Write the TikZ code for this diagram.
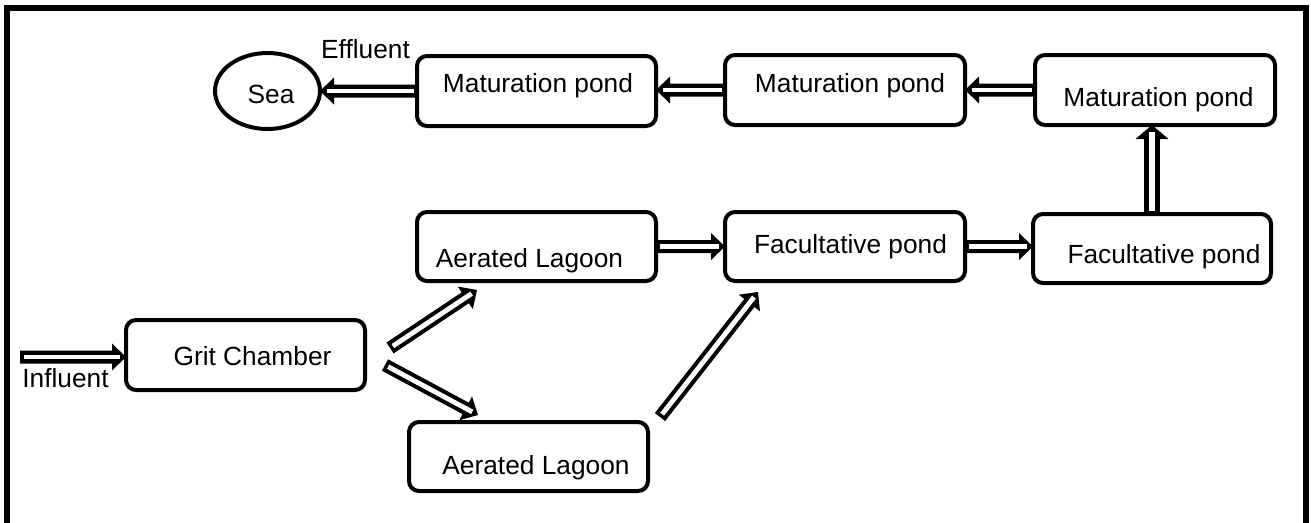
\documentclass[tikz,border=0pt]{standalone}
\usepackage{fontspec}
\setmainfont{Liberation Sans}
\usetikzlibrary{calc,shapes.geometric}
\tikzset{
  pond/.style={draw=black, line width=4pt, rounded corners=10pt, minimum width=239pt, minimum height=70pt, inner sep=0pt, outer sep=0pt},
  seashape/.style={draw=black, line width=4pt, ellipse, minimum width=105pt, minimum height=76pt, inner sep=0pt, outer sep=0pt},
  lbl/.style={anchor=base, inner sep=0pt, font=\fontsize{26.3}{30}\selectfont},
  flowbody/.style={fill=black},
  flowcore/.style={fill=white},
}
\newcommand\blockflow[3][1]{%
  \path #2 coordinate (bfA);
  \path #3 coordinate (bfB);
  \path let \p1=($(bfB)-(bfA)$), \n1={atan2(\y1,\x1)}, \n2={veclen(\x1,\y1)} in
    \pgfextra{\xdef\bfang{\n1}\xdef\bflen{\n2}};
  \begin{scope}[shift={(bfA)}, x=1pt, y=1pt, rotate=\bfang]
    \fill[flowbody] (0,{-6.5*#1}) -- ({\bflen-14},{-6.5*#1}) -- ({\bflen-14},{-13.5*#1}) -- ({\bflen},0)
      -- ({\bflen-14},{13.5*#1}) -- ({\bflen-14},{6.5*#1}) -- (0,{6.5*#1}) -- cycle;
    \fill[flowcore] (3.5,{-2.4*#1}) -- ({\bflen-6.5},{-2.4*#1}) -- ({\bflen-6.5},{2.4*#1}) -- (3.5,{2.4*#1}) -- cycle;
  \end{scope}}
\begin{document}
\begin{tikzpicture}[x=1pt,y=-1pt]
\useasboundingbox (0,0) rectangle (1311,522);
\clip (0,0) rectangle (1311,522);
\draw[line width=6pt] (7,8) rectangle (1306,535);

% boxes
\node[pond] (grit) at (245.5,355) {};
\node[pond, minimum height=69pt] (agt) at (536.5,246.5) {};
\node[pond, minimum height=69pt] (agb) at (528.5,456.5) {};
\node[pond, minimum width=240pt, minimum height=69pt] (facm) at (845,246.5) {};
\node[pond, minimum width=238pt, minimum height=69pt] (facr) at (1152,248.5) {};
\node[pond] (matl) at (536.5,91) {};
\node[pond, minimum width=240pt] (matm) at (845,90) {};
\node[pond, minimum width=240pt] (matr) at (1155,90) {};
\node[seashape] (sea) at (267.5,91) {};

% texts
\node[lbl] (gritt) at (252.5,365) {Grit Chamber};
\node[lbl] (agtt) at (529.5,267) {Aerated Lagoon};
\node[lbl] (agbt) at (536,474) {Aerated Lagoon};
\node[lbl] (facmt) at (850.5,253) {Facultative pond};
\node[lbl] (facrt) at (1164,263) {Facultative pond};
\node[lbl] (matlt) at (538,92) {Maturation pond};
\node[lbl] (matmt) at (850,92) {Maturation pond};
\node[lbl] (matrt) at (1158.5,106) {Maturation pond};
\node[lbl] (seat) at (271,103) {Sea};
\node[lbl] (effl) at (365.5,58) {Effluent};
\node[lbl] (infl) at (65.5,387) {Influent};

% free ends
\coordinate (inf) at (20,357);
\coordinate (d1a) at (390,348);
\coordinate (d1b) at (477,290);
\coordinate (d2a) at (385,365);
\coordinate (d2b) at (478,415);
\coordinate (d3a) at (660,417);
\coordinate (d3b) at (758,292);

% connectors
\blockflow{(inf)}{(inf -| grit.west)}
\blockflow{(d1a)}{(d1b)}
\blockflow{(d2a)}{(d2b)}
\blockflow{(d3a)}{(d3b)}
\blockflow{(agt.east)}{(facm.west)}
\blockflow{(facm.east)}{(facm.east -| facr.west)}
\blockflow[1.22]{(facr.north)}{(facr.north |- matr.south)}
\blockflow{(matr.west)}{(matm.east)}
\blockflow{(matm.west)}{(matm.west -| matl.east)}
\blockflow{(matl.west)}{(matl.west -| sea.east)}
\end{tikzpicture}
\end{document}
